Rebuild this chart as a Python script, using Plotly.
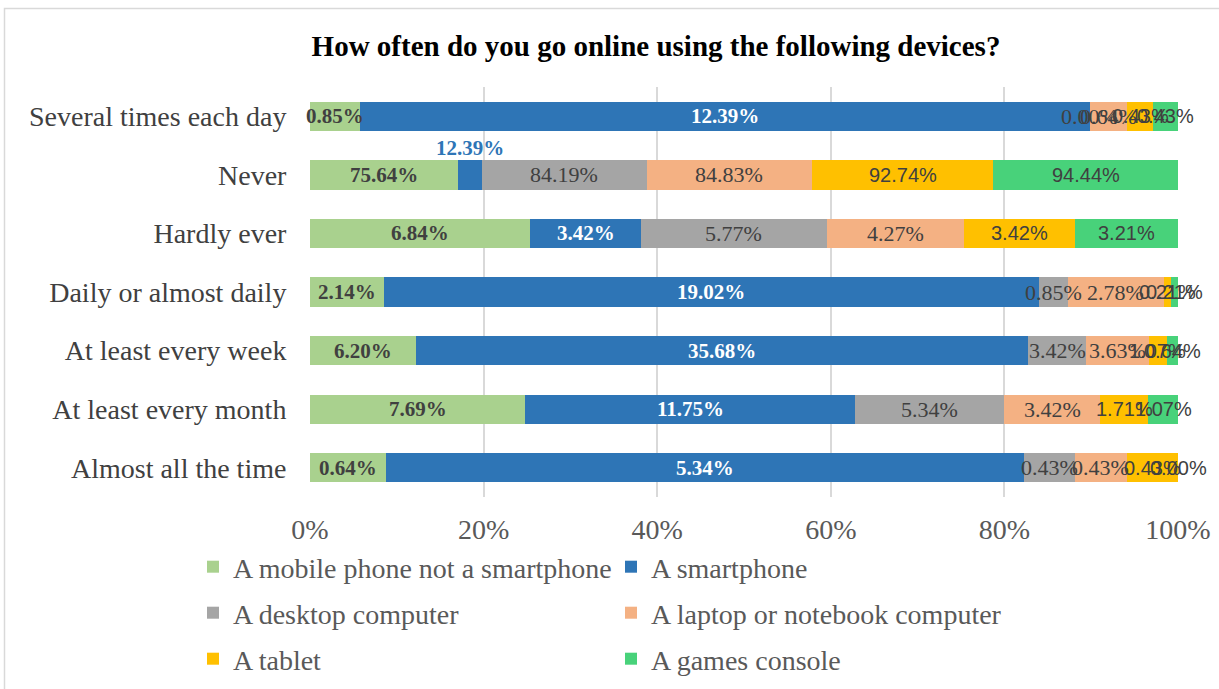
import plotly.graph_objects as go

# Survey responses: share of parents using each device, by frequency
categories = [
    "Several times each day",
    "Never",
    "Hardly ever",
    "Daily or almost daily",
    "At least every week",
    "At least every month",
    "Almost all the time",
]
series_names = [
    "A mobile phone not a smartphone",
    "A smartphone",
    "A desktop computer",
    "A laptop or notebook computer",
    "A tablet",
    "A games console",
]
mobile = [0.85, 75.64, 6.84, 2.14, 6.20, 7.69, 0.64]
smartphone = [12.39, 12.39, 3.42, 19.02, 35.68, 11.75, 5.34]
desktop = [0.00, 84.19, 5.77, 0.85, 3.42, 5.34, 0.43]
laptop = [0.64, 84.83, 4.27, 2.78, 3.63, 3.42, 0.43]
tablet = [0.43, 92.74, 3.42, 0.21, 1.07, 1.71, 0.43]
games = [0.43, 94.44, 3.21, 0.21, 0.64, 1.07, 0.00]
x_ticks = [0, 20, 40, 60, 80, 100]
x_tick_labels = [f"{t}%" for t in x_ticks]

series_values = [mobile, smartphone, desktop, laptop, tablet, games]
colors = ["#A9D18E", "#2E75B6", "#A5A5A5", "#F4B183", "#FFC000", "#48D27A"]
legend_ids = ["legend", "legend", "legend2", "legend2", "legend3", "legend3"]

SERIF = "Liberation Serif, Times New Roman, serif"
SANS = "Liberation Sans, Arial, sans-serif"
label_fonts = [
    dict(family=SERIF, size=21, color="#404040", weight="bold"),
    dict(family=SERIF, size=21, color="#FFFFFF", weight="bold"),
    dict(family=SERIF, size=22, color="#404040"),
    dict(family=SERIF, size=22, color="#404040"),
    dict(family=SANS, size=20, color="#404040"),
    dict(family=SANS, size=20, color="#404040"),
]

W, H = 1219, 689
L, R, T, B = 310, 41, 87, 192
PW, PH = W - L - R, H - T - B


def px_x(p):
    return (p - L) / PW


def px_y(p):
    return (H - B - p) / PH


fig = go.Figure()
for name, vals, col, lg in zip(series_names, series_values, colors, legend_ids):
    fig.add_trace(go.Bar(
        y=categories, x=vals, name=name, orientation="h",
        marker=dict(color=col, line=dict(width=0)),
        legend=lg, hoverinfo="skip",
    ))

# Value labels centred on each segment of the 100% stacked bars
annotations = []
for i, cat in enumerate(categories):
    total = sum(s[i] for s in series_values)
    cum = 0.0
    for k, s in enumerate(series_values):
        v = s[i]
        mid = (cum + v / 2) / total * 100
        cum += v
        font = dict(label_fonts[k])
        yshift = 0
        if cat == "Never" and k == 1:
            font["color"] = "#2E75B6"
            yshift = 27
        annotations.append(dict(
            x=mid, y=cat, xref="x", yref="y", text=f"{v:.2f}%",
            showarrow=False, xanchor="center", yanchor="middle",
            font=font, yshift=yshift,
        ))

legend_style = dict(
    orientation="h", xanchor="left", yanchor="middle",
    xref="container", yref="container",
    font=dict(family=SERIF, size=28, color="#595959"),
    entrywidth=373, entrywidthmode="pixels",
    bgcolor="rgba(0,0,0,0)", traceorder="normal",
)

fig.update_layout(
    width=W, height=H,
    margin=dict(l=L, r=R, t=T, b=B, pad=0, autoexpand=False),
    paper_bgcolor="white", plot_bgcolor="white",
    barmode="stack", barnorm="percent", bargap=0.5,
    title=dict(
        text="How often do you go online using the following devices?",
        font=dict(family=SERIF, size=29, color="#000000", weight="bold"),
        x=656 / W, xref="container", xanchor="center",
        y=1 - 46 / H, yref="container", yanchor="middle",
    ),
    xaxis=dict(
        range=[0, 100], tickmode="array", tickvals=x_ticks, ticktext=x_tick_labels,
        showgrid=True, gridcolor="#D9D9D9", gridwidth=1.5,
        zeroline=False, showline=False, automargin=False,
        ticks="outside", ticklen=7, tickcolor="rgba(0,0,0,0)",
        tickfont=dict(family=SERIF, size=28, color="#595959"),
        fixedrange=True,
    ),
    yaxis=dict(
        type="category", categoryorder="array", categoryarray=categories,
        autorange="reversed", showgrid=False, zeroline=False, showline=False,
        automargin=False,
        ticks="outside", ticklen=17, tickcolor="rgba(0,0,0,0)",
        tickfont=dict(family=SERIF, size=28, color="#404040"),
        fixedrange=True,
    ),
    legend=dict(legend_style, x=193 / W, y=1 - 567 / H),
    legend2=dict(legend_style, x=193 / W, y=1 - 613 / H),
    legend3=dict(legend_style, x=193 / W, y=1 - 659 / H),
    annotations=annotations,
    shapes=[dict(
        type="rect", xref="paper", yref="paper", layer="below",
        x0=px_x(4.5), x1=px_x(1400), y0=px_y(800), y1=px_y(8.5),
        line=dict(color="#D9D9D9", width=1.5), fillcolor="rgba(0,0,0,0)",
    )],
    showlegend=True,
)

fig.write_html("out.html")
